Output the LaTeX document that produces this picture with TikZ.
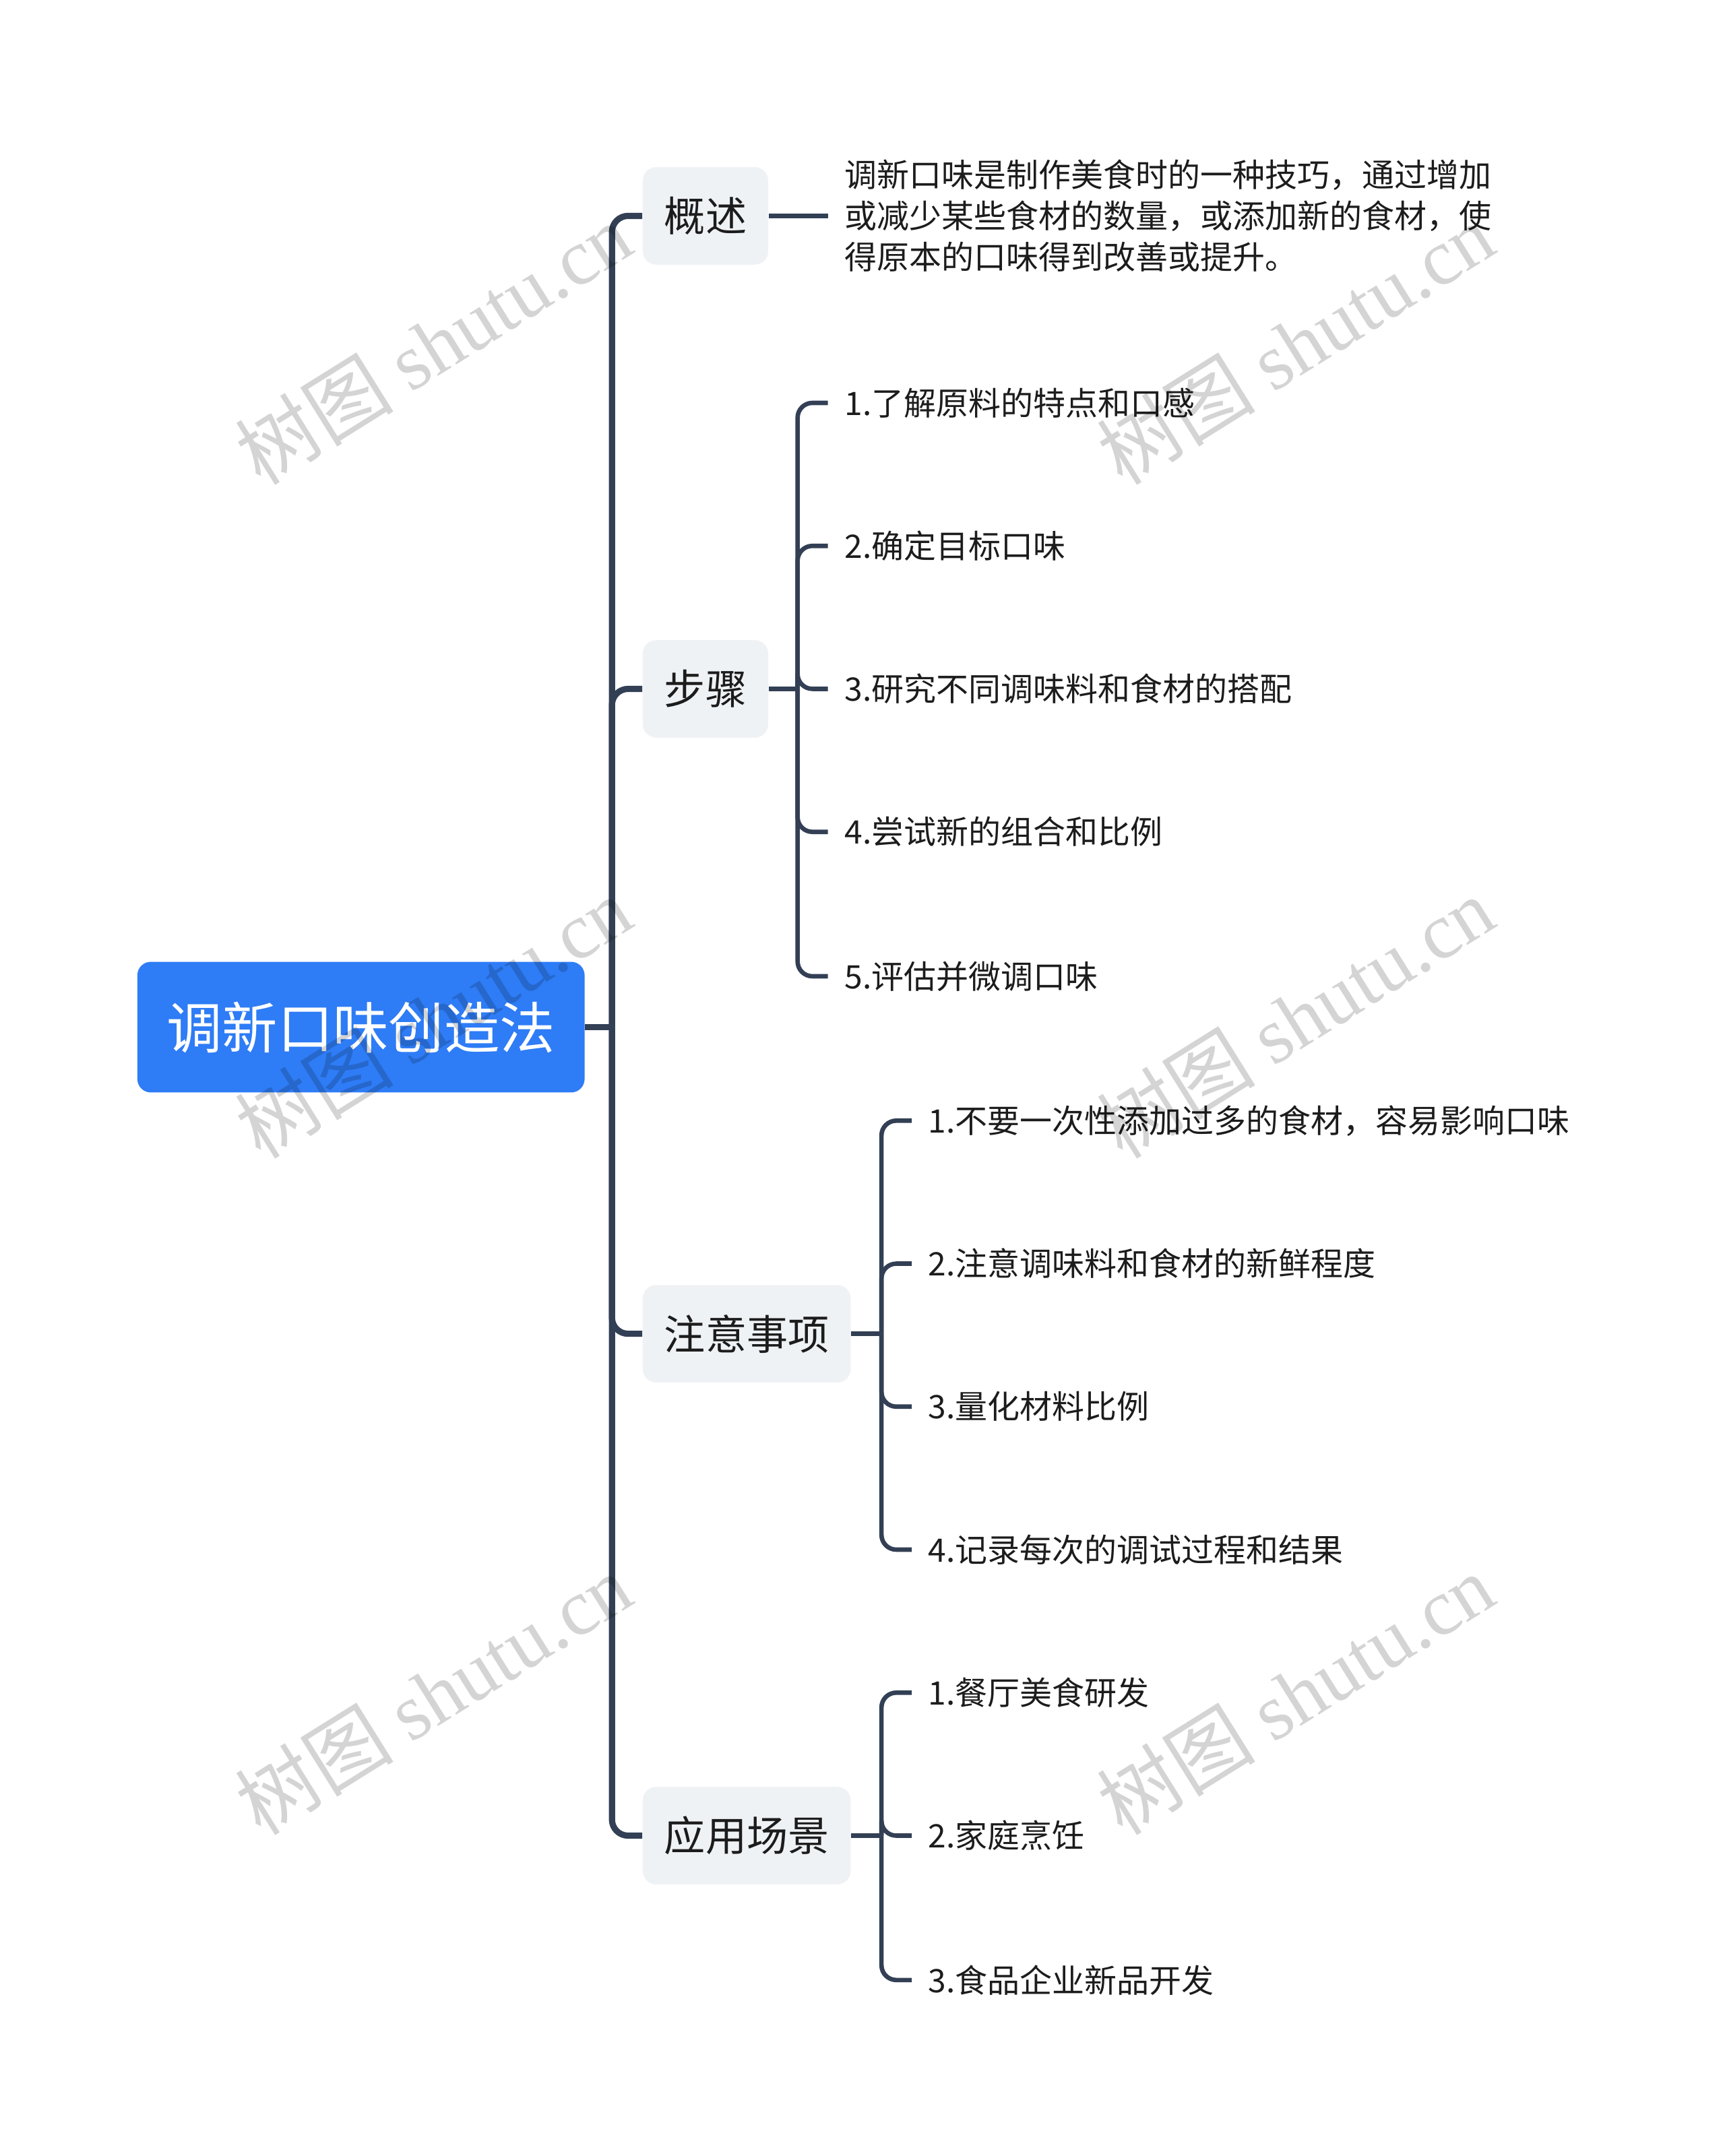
\documentclass[tikz,border=0pt]{standalone}
\usepackage{fontspec}
\setmainfont{Noto Sans CJK SC}
\newfontfamily\wmlatin{Liberation Serif}
\usetikzlibrary{positioning}
\definecolor{rootblue}{RGB}{46,124,246}
\definecolor{linkslate}{RGB}{50,63,84}
\definecolor{topicgray}{RGB}{239,242,245}
\definecolor{inkblack}{RGB}{28,28,28}

\begin{document}
\begin{tikzpicture}[
  x=0.5104pt, y=-0.5104pt,
  rootbox/.style={fill=rootblue, rounded corners=5pt, text=white,
                  font=\fontsize{20.6}{24}\selectfont,
                  minimum width=166pt, minimum height=48.5pt, inner sep=0pt},
  topic/.style={fill=topicgray, rounded corners=5pt, text=inkblack, anchor=west,
                font=\fontsize{15.3}{18}\selectfont,
                minimum height=36.2pt, inner xsep=8pt, inner ysep=0pt},
  leaf/.style={text=inkblack, anchor=west, align=left,
               font=\fontsize{12}{15.3}\selectfont, inner xsep=6pt, inner ysep=2pt},
  trunk/.style={draw=linkslate, line width=2.3pt, rounded corners=6pt},
  twig/.style={draw=linkslate, line width=1.65pt, rounded corners=5.5pt},
  wmtext/.style={text=black, text opacity=0.17, rotate=32,
                 font=\fontsize{29.5}{29.5}\selectfont, inner sep=0pt}
]
  \useasboundingbox (0,0) rectangle (1254,1568);

  \node[rootbox] (root) at (262.5,747) {调新口味创造法};

  \node[topic] (gaishu)   at (467,157)  {概述};
  \node[topic] (buzhou)   at (467,501)  {步骤};
  \node[topic] (zhuyi)    at (467,970)  {注意事项};
  \node[topic] (yingyong) at (467,1335) {应用场景};

  \node[leaf] (desc) at (602,157)
    {调新口味是制作美食时的一种技巧，通过增加\\
     或减少某些食材的数量，或添加新的食材，使\\
     得原本的口味得到改善或提升。};

  \node[leaf] (bz1) at (602,293) {1.了解原料的特点和口感};
  \node[leaf] (bz2) at (602,397) {2.确定目标口味};
  \node[leaf] (bz3) at (602,501) {3.研究不同调味料和食材的搭配};
  \node[leaf] (bz4) at (602,605) {4.尝试新的组合和比例};
  \node[leaf] (bz5) at (602,710) {5.评估并微调口味};

  \node[leaf] (zy1) at (663,815)  {1.不要一次性添加过多的食材，容易影响口味};
  \node[leaf] (zy2) at (663,919)  {2.注意调味料和食材的新鲜程度};
  \node[leaf] (zy3) at (663,1023) {3.量化材料比例};
  \node[leaf] (zy4) at (663,1127) {4.记录每次的调试过程和结果};

  \node[leaf] (yy1) at (663,1231) {1.餐厅美食研发};
  \node[leaf] (yy2) at (663,1335) {2.家庭烹饪};
  \node[leaf] (yy3) at (663,1440) {3.食品企业新品开发};

  % trunk from the root to the four topics
  \coordinate (hub) at (445,747);
  \draw[trunk] (root.east) -- (hub);
  \foreach \t in {gaishu,buzhou,zhuyi,yingyong}
    \draw[trunk] (hub) |- (\t.west);

  % brackets to the leaves
  \draw[twig] (gaishu.east) -- (desc.west);

  \coordinate (bzhub) at (580,501);
  \draw[twig] (buzhou.east) -- (bzhub);
  \foreach \l in {bz1,bz2,bz3,bz4,bz5}
    \draw[twig] (bzhub) |- (\l.west);

  \coordinate (zyhub) at (641,970);
  \draw[twig] (zhuyi.east) -- (zyhub);
  \foreach \l in {zy1,zy2,zy3,zy4}
    \draw[twig] (zyhub) |- (\l.west);

  \coordinate (yyhub) at (641,1335);
  \draw[twig] (yingyong.east) -- (yyhub);
  \foreach \l in {yy1,yy2,yy3}
    \draw[twig] (yyhub) |- (\l.west);

  % watermarks
  \foreach \wx/\wy [count=\i] in {315/250,942/250,315/740,942/740,315/1232,942/1232}
    \node[wmtext] (wm\i) at (\wx,\wy) {树图 {\wmlatin shutu.cn}};
\end{tikzpicture}
\end{document}
